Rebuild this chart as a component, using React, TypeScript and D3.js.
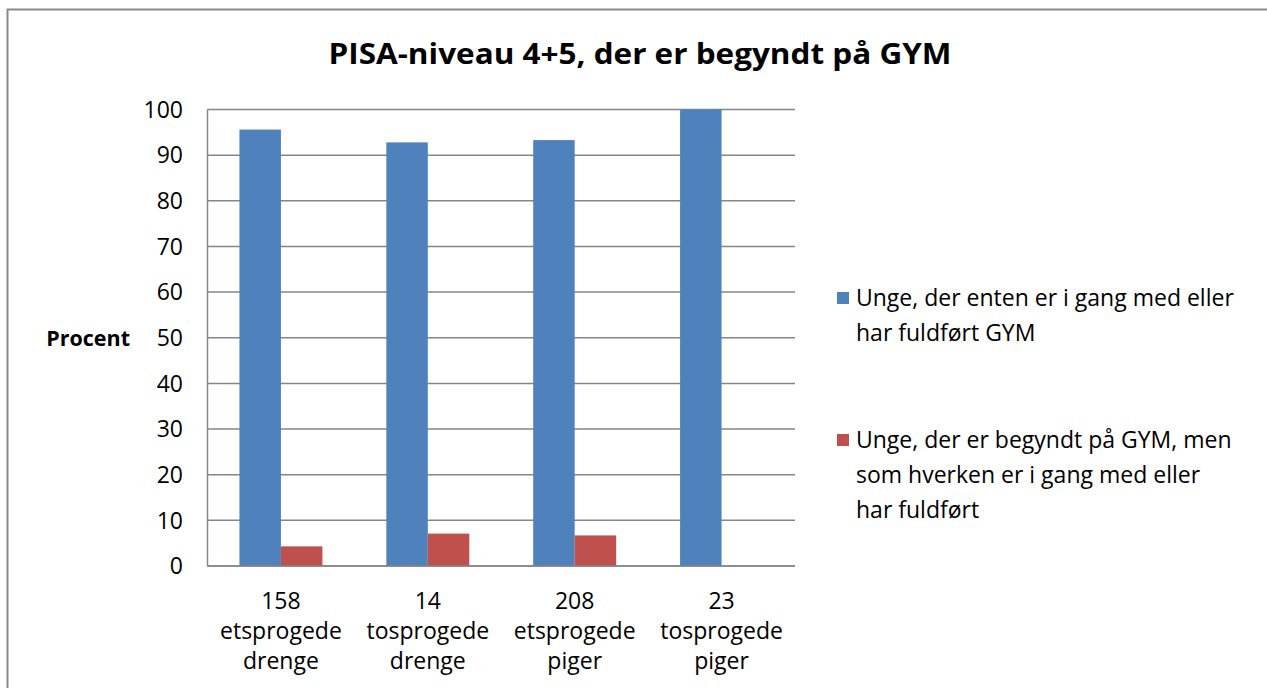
import React from 'react';
import * as d3 from 'd3';

// chart data
const categories = ['158|etsprogede|drenge', '14|tosprogede|drenge', '208|etsprogede|piger', '23|tosprogede|piger'];
const seriesNames = ['Unge, der enten er i gang med eller|har fuldført GYM', 'Unge, der er begyndt på GYM, men|som hverken er i gang med eller|har fuldført'];
const activeOrDone = [95.6, 92.8, 93.3, 100];
const startedDropped = [4.3, 7.1, 6.7, 0];
const yTicks = [0, 10, 20, 30, 40, 50, 60, 70, 80, 90, 100];
const seriesColors = ['#4F81BD', '#C0504D'];

const W = 1267;
const H = 688;
const font = "'Open Sans', sans-serif";
const bodySize = 23;

const App = () => {
  const plot = { left: 207.5, right: 795, top: 109.5, bottom: 566 };

  const y = d3.scaleLinear().domain([0, 100]).range([plot.bottom, plot.top]);
  const x0 = d3.scaleBand().domain(categories).range([plot.left, plot.right]).padding(0);
  const x1 = d3.scaleBand().domain(['0', '1']).range([0, x0.bandwidth()])
    .paddingInner(0).paddingOuter(0.77);

  const series = [activeOrDone, startedDropped];

  return (
    <div style={{ position: 'absolute', left: 0, top: 0 }}>
      <svg width={W} height={H} style={{ display: 'block', background: '#fff' }}>
        {/* chart border */}
        <rect x={7.5} y={9.5} width={W + 10} height={H + 10} fill="#fff" stroke="#8a8a8a" strokeWidth={2} />

        {/* title */}
        <text x={640} y={64} textAnchor="middle" fontFamily={font} fontWeight={700}
          fontSize={29} fill="#000" textLength={623} lengthAdjust="spacingAndGlyphs">
          PISA-niveau 4+5, der er begyndt på GYM
        </text>

        {/* gridlines */}
        {yTicks.map((t) => (
          <line key={t} x1={plot.left} x2={plot.right} y1={y(t)} y2={y(t)} stroke="#868686" strokeWidth={1.5} />
        ))}
        <line x1={plot.left} x2={plot.left} y1={plot.top} y2={plot.bottom} stroke="#868686" strokeWidth={1.5} />

        {/* y tick labels */}
        {yTicks.map((t) => (
          <text key={t} x={183} y={y(t)} dy="0.36em" textAnchor="end" fontFamily={font} fontSize={bodySize} fill="#000">
            {t}
          </text>
        ))}
        <text x={130} y={338} dy="0.36em" textAnchor="end" fontFamily={font} fontWeight={700} fontSize={21.5} fill="#000">
          Procent
        </text>

        {/* bars */}
        {categories.map((c, i) => (
          <g key={c} transform={`translate(${x0(c)},0)`}>
            {series.map((s, k) => (
              s[i] > 0 ? (
                <rect key={k} x={x1(String(k))} y={y(s[i])} width={x1.bandwidth()}
                  height={y(0) - y(s[i])} fill={seriesColors[k]} />
              ) : null
            ))}
          </g>
        ))}

        {/* x axis line */}
        <line x1={plot.left} x2={plot.right} y1={plot.bottom} y2={plot.bottom} stroke="#868686" strokeWidth={1.5} />

        {/* x labels */}
        {categories.map((c) => (
          <text key={c} textAnchor="middle" fontFamily={font} fontSize={bodySize} fill="#000">
            {c.split('|').map((line, j) => (
              <tspan key={j} x={(x0(c) as number) + x0.bandwidth() / 2} y={609 + j * 30}>{line}</tspan>
            ))}
          </text>
        ))}

        {/* legend */}
        {seriesNames.map((name, k) => {
          const top = k === 0 ? 298 : 440;
          return (
            <g key={k}>
              <rect x={837} y={top - 6} width={12} height={12} fill={seriesColors[k]} />
              <text fontFamily={font} fontSize={bodySize} fill="#000">
                {name.split('|').map((line, j) => (
                  <tspan key={j} x={856} y={top + 8 + j * 35}>{line}</tspan>
                ))}
              </text>
            </g>
          );
        })}
      </svg>
    </div>
  );
};

export default App;
